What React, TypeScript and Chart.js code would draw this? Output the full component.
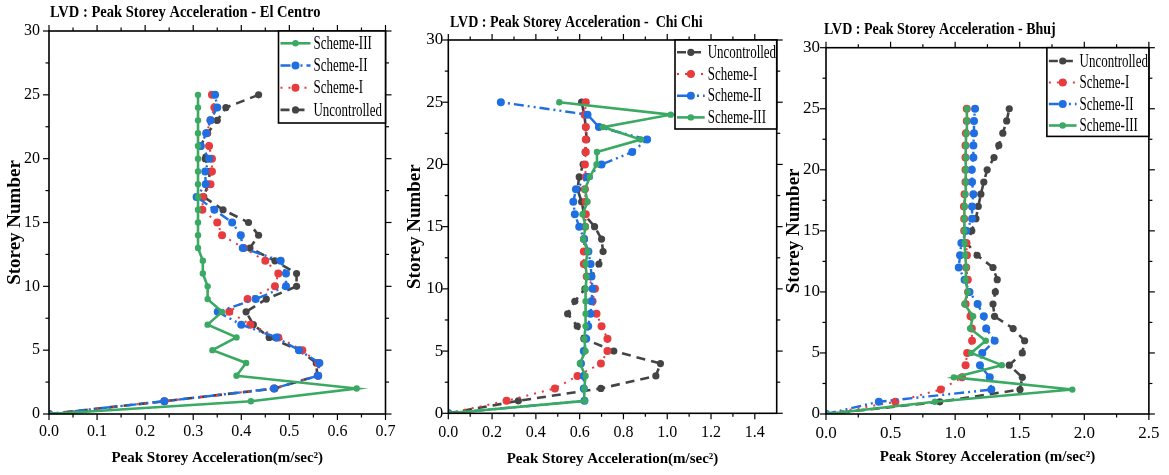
import React, { useEffect, useRef } from "react";
import { Chart, registerables } from "chart.js";

Chart.register(...registerables);
Chart.defaults.font.family = "'Liberation Serif', 'Times New Roman', serif";
Chart.defaults.color = "#000";

// ---------------- DATA ----------------
const storeys = [0, 1, 2, 3, 4, 5, 6, 7, 8, 9, 10, 11, 12, 13, 14, 15, 16, 17, 18, 19, 20, 21, 22, 23, 24, 25];

// El Centro (m/sec^2), storey 0..25
const elCentroUncontrolled = [0, 0.24, 0.47, 0.558, 0.556, 0.52, 0.458, 0.425, 0.41, 0.452, 0.515, 0.515, 0.47, 0.418, 0.436, 0.415, 0.362, 0.322, 0.331, 0.335, 0.325, 0.315, 0.33, 0.35, 0.368, 0.436];
const elCentroSchemeI = [0, 0.24, 0.468, 0.56, 0.56, 0.527, 0.477, 0.419, 0.375, 0.413, 0.47, 0.477, 0.45, 0.405, 0.36, 0.35, 0.319, 0.32, 0.336, 0.339, 0.339, 0.333, 0.328, 0.336, 0.344, 0.339];
const elCentroSchemeII = [0, 0.24, 0.4685, 0.56, 0.5625, 0.52, 0.473, 0.4, 0.351, 0.43, 0.493, 0.493, 0.482, 0.403, 0.399, 0.381, 0.344, 0.307, 0.326, 0.325, 0.333, 0.316, 0.327, 0.336, 0.35, 0.3455];
const elCentroSchemeIII = [0, 0.42, 0.64, 0.39, 0.41, 0.34, 0.39, 0.33, 0.36, 0.33, 0.33, 0.32, 0.32, 0.31, 0.31, 0.31, 0.31, 0.31, 0.31, 0.31, 0.31, 0.31, 0.31, 0.31, 0.31, 0.31];

// Chi Chi
const chiChiUncontrolled = [0, 0.32, 0.697, 0.948, 0.969, 0.756, 0.619, 0.589, 0.545, 0.578, 0.624, 0.654, 0.688, 0.707, 0.7, 0.668, 0.62, 0.609, 0.59, 0.598, 0.616, 0.625, 0.632, 0.628, 0.621, 0.609];
const chiChiSchemeI = [0, 0.266, 0.487, 0.59, 0.697, 0.727, 0.727, 0.7, 0.677, 0.659, 0.67, 0.632, 0.619, 0.619, 0.62, 0.625, 0.628, 0.628, 0.624, 0.628, 0.624, 0.628, 0.628, 0.628, 0.624, 0.628];
const chiChiSchemeII = [0, 0.622, 0.619, 0.619, 0.606, 0.619, 0.63, 0.639, 0.65, 0.654, 0.659, 0.654, 0.65, 0.64, 0.62, 0.598, 0.578, 0.571, 0.583, 0.635, 0.7, 0.84, 0.908, 0.688, 0.636, 0.24];
const chiChiSchemeIII = [0, 0.624, 0.621, 0.627, 0.601, 0.627, 0.621, 0.627, 0.627, 0.627, 0.627, 0.632, 0.627, 0.637, 0.616, 0.628, 0.613, 0.636, 0.624, 0.647, 0.677, 0.679, 0.879, 0.707, 1.016, 0.507];

// Bhuj
const bhujUncontrolled = [0, 0.881, 1.502, 1.52, 1.419, 1.52, 1.538, 1.449, 1.305, 1.293, 1.311, 1.326, 1.293, 1.17, 1.09, 1.129, 1.161, 1.179, 1.199, 1.222, 1.248, 1.301, 1.338, 1.369, 1.399, 1.419];
const bhujSchemeI = [0, 0.537, 0.889, 1.053, 1.081, 1.093, 1.131, 1.129, 1.119, 1.081, 1.1, 1.098, 1.086, 1.091, 1.086, 1.07, 1.07, 1.068, 1.073, 1.08, 1.08, 1.08, 1.08, 1.083, 1.09, 1.09];
const bhujSchemeII = [0, 0.409, 1.28, 1.268, 1.192, 1.21, 1.306, 1.24, 1.222, 1.174, 1.111, 1.073, 1.028, 1.038, 1.048, 1.086, 1.131, 1.131, 1.141, 1.131, 1.129, 1.141, 1.141, 1.146, 1.146, 1.154];
const bhujSchemeIII = [0, 0.843, 1.907, 0.99, 1.361, 1.124, 1.237, 1.116, 1.139, 1.071, 1.098, 1.081, 1.086, 1.078, 1.073, 1.071, 1.071, 1.073, 1.078, 1.081, 1.081, 1.083, 1.083, 1.086, 1.091, 1.091];

// Tick labels
const elCentroXTicks = [0, 0.1, 0.2, 0.3, 0.4, 0.5, 0.6, 0.7];
const chiChiXTicks = [0, 0.2, 0.4, 0.6, 0.8, 1.0, 1.2, 1.4];
const bhujXTicks = [0, 0.5, 1.0, 1.5, 2.0, 2.5];
const storeyTicks = [0, 5, 10, 15, 20, 25, 30];

const seriesNames = ["Uncontrolled", "Scheme-I", "Scheme-II", "Scheme-III"];

// ---------------- STYLES ----------------
const STYLES: Record<string, { color: string; dash: number[]; width: number; radius: number }> = {
  "Scheme-III": { color: "#3aa962", dash: [], width: 2.6, radius: 3.2 },
  "Scheme-II": { color: "#1f6fe3", dash: [10, 4, 2, 4, 2, 4], width: 2.4, radius: 4 },
  "Scheme-I": { color: "#e83b3d", dash: [2, 6], width: 2, radius: 4 },
  Uncontrolled: { color: "#444444", dash: [9, 6], width: 2.6, radius: 3.6 },
};

// ---------------- PLUGINS ----------------
const framePlugin = {
  id: "panelFrame",
  afterDraw(chart: any) {
    const { ctx, chartArea: a, scales } = chart;
    const x = scales.x;
    const y = scales.y;
    ctx.save();
    ctx.strokeStyle = "#000";
    ctx.lineWidth = 1.6;
    ctx.setLineDash([]);
    ctx.strokeRect(a.left, a.top, a.right - a.left, a.bottom - a.top);
    ctx.lineWidth = 1.2;
    const major = 6;
    const minor = 3.5;
    const seg = (x1: number, y1: number, x2: number, y2: number) => {
      ctx.beginPath();
      ctx.moveTo(x1, y1);
      ctx.lineTo(x2, y2);
      ctx.stroke();
    };
    const xv = x.ticks.map((t: any) => t.value);
    const yv = y.ticks.map((t: any) => t.value);
    const drawX = (v: number, len: number) => {
      const p = x.getPixelForValue(v);
      seg(p, a.bottom, p, a.bottom + len);
      seg(p, a.top, p, a.top - len);
    };
    const drawY = (v: number, len: number) => {
      const p = y.getPixelForValue(v);
      seg(a.left, p, a.left - len, p);
      seg(a.right, p, a.right + len, p);
    };
    xv.forEach((v: number, i: number) => {
      drawX(v, major);
      if (i < xv.length - 1) drawX((v + xv[i + 1]) / 2, minor);
    });
    yv.forEach((v: number, i: number) => {
      drawY(v, major);
      if (i < yv.length - 1) drawY((v + yv[i + 1]) / 2, minor);
    });
    ctx.restore();
  },
};

const titlePlugin = {
  id: "panelTitle",
  afterDraw(chart: any, _args: any, opts: any) {
    const { ctx } = chart;
    ctx.save();
    ctx.fillStyle = "#000";
    ctx.font = "bold 17.5px 'Liberation Serif', serif";
    ctx.textBaseline = "middle";
    ctx.textAlign = "left";
    ctx.translate(opts.x, opts.y);
    ctx.scale(opts.scale, 1);
    ctx.fillText(opts.text, 0, 0);
    ctx.restore();
  },
};

const legendPlugin = {
  id: "panelLegend",
  afterDraw(chart: any, _args: any, opts: any) {
    const { ctx, chartArea: a } = chart;
    const left = a.right - opts.boxW;
    const top = a.top;
    ctx.save();
    ctx.fillStyle = "#fff";
    ctx.fillRect(left, top, opts.boxW, opts.boxH);
    ctx.strokeStyle = "#000";
    ctx.lineWidth = 1.6;
    ctx.setLineDash([]);
    ctx.strokeRect(left, top, opts.boxW, opts.boxH);
    opts.order.forEach((name: string, i: number) => {
      const s = STYLES[name];
      const cy = top + opts.rowTop + i * opts.rowH;
      const x0 = left + 2;
      const x1 = left + opts.textOff - 3;
      ctx.strokeStyle = s.color;
      ctx.lineWidth = s.width;
      ctx.setLineDash(s.dash);
      ctx.beginPath();
      ctx.moveTo(x0, cy);
      ctx.lineTo(x1, cy);
      ctx.stroke();
      ctx.setLineDash([]);
      ctx.fillStyle = s.color;
      ctx.beginPath();
      ctx.arc((x0 + x1) / 2, cy, s.radius, 0, Math.PI * 2);
      ctx.fill();
      ctx.save();
      ctx.fillStyle = "#000";
      ctx.font = "18px 'Liberation Serif', serif";
      ctx.textBaseline = "middle";
      ctx.textAlign = "left";
      ctx.translate(left + opts.textOff, cy + 1);
      ctx.scale(0.72, 1);
      ctx.fillText(name, 0, 0);
      ctx.restore();
    });
    ctx.restore();
  },
};

// ---------------- PANELS ----------------
type PanelCfg = {
  left: number;
  w: number;
  top: number;
  padRight: number;
  yAxisW: number;
  xAxisH: number;
  xMax: number;
  xTicks: number[];
  yTickFont: number;
  yTickPad: number;
  xTickFont: number;
  xTickPad: number;
  xTitle: string;
  xTitlePad: number;
  yTitlePad: number;
  title: string;
  titleX: number;
  titleY: number;
  titleScale: number;
  legendOrder: string[];
  boxW: number;
  boxH: number;
  textOff: number;
  rowTop: number;
  rowH: number;
  series: Record<string, number[]>;
};

const panels: PanelCfg[] = [
  {
    left: 0, w: 404, top: 31, padRight: 8, yAxisW: 49, xAxisH: 61, xMax: 0.7, xTicks: elCentroXTicks,
    yTickFont: 16, yTickPad: 9, xTickFont: 16, xTickPad: 8.5,
    xTitle: "Peak Storey Acceleration(m/sec²)", xTitlePad: 9.5, yTitlePad: 5.5,
    title: "LVD : Peak Storey Acceleration - El Centro", titleX: 50, titleY: 12.5, titleScale: 0.83,
    legendOrder: ["Scheme-III", "Scheme-II", "Scheme-I", "Uncontrolled"],
    boxW: 107, boxH: 92, textOff: 35, rowTop: 12.3, rowH: 22.2,
    series: { Uncontrolled: elCentroUncontrolled, "Scheme-I": elCentroSchemeI, "Scheme-II": elCentroSchemeII, "Scheme-III": elCentroSchemeIII },
  },
  {
    left: 403, w: 381, top: 40, padRight: 7.3, yAxisW: 45.3, xAxisH: 61.7, xMax: 1.5, xTicks: chiChiXTicks,
    yTickFont: 17, yTickPad: 5, xTickFont: 16, xTickPad: 10,
    xTitle: "Peak Storey Acceleration(m/sec²)", xTitlePad: 8, yTitlePad: 3,
    title: "LVD : Peak Storey Acceleration -  Chi Chi", titleX: 47, titleY: 22.5, titleScale: 0.8,
    legendOrder: seriesNames,
    boxW: 101.7, boxH: 89, textOff: 32.7, rowTop: 12.3, rowH: 21.7,
    series: { Uncontrolled: chiChiUncontrolled, "Scheme-I": chiChiSchemeI, "Scheme-II": chiChiSchemeII, "Scheme-III": chiChiSchemeIII },
  },
  {
    left: 784, w: 385, top: 47.7, padRight: 13, yAxisW: 42, xAxisH: 61, xMax: 2.5, xTicks: bhujXTicks,
    yTickFont: 17, yTickPad: 6, xTickFont: 17, xTickPad: 9.5,
    xTitle: "Peak Storey Acceleration (m/sec²)", xTitlePad: 10.5, yTitlePad: 0.3,
    title: "LVD : Peak Storey Acceleration - Bhuj", titleX: 40, titleY: 29, titleScale: 0.8,
    legendOrder: seriesNames,
    boxW: 102, boxH: 88.7, textOff: 32.7, rowTop: 13.3, rowH: 21.5,
    series: { Uncontrolled: bhujUncontrolled, "Scheme-I": bhujSchemeI, "Scheme-II": bhujSchemeII, "Scheme-III": bhujSchemeIII },
  },
];

// draw order: first dataset ends up on top
const drawOrder = ["Scheme-III", "Scheme-II", "Scheme-I", "Uncontrolled"];

function Panel({ cfg }: { cfg: PanelCfg }) {
  const ref = useRef<HTMLCanvasElement | null>(null);
  useEffect(() => {
    if (!ref.current) return;
    const datasets = drawOrder.map((name) => {
      const s = STYLES[name];
      return {
        label: name,
        data: storeys.map((st, i) => ({ x: cfg.series[name][i], y: st })),
        borderColor: s.color,
        backgroundColor: s.color,
        borderWidth: s.width,
        borderDash: s.dash,
        pointRadius: s.radius,
        pointBorderWidth: 0,
        pointBackgroundColor: s.color,
        pointHoverRadius: s.radius,
        tension: 0,
        fill: false,
      };
    });
    const chart = new Chart(ref.current, {
      type: "line",
      data: { datasets },
      options: {
        animation: false,
        responsive: false,
        devicePixelRatio: 1,
        events: [],
        layout: { padding: { top: cfg.top, right: cfg.padRight, left: 0, bottom: 0 } },
        plugins: {
          legend: { display: false },
          tooltip: { enabled: false },
          title: { display: false },
          panelTitle: { text: cfg.title, x: cfg.titleX, y: cfg.titleY, scale: cfg.titleScale },
          panelLegend: {
            order: cfg.legendOrder, boxW: cfg.boxW, boxH: cfg.boxH, textOff: cfg.textOff,
            rowTop: cfg.rowTop, rowH: cfg.rowH,
          },
        } as any,
        scales: {
          x: {
            type: "linear",
            position: "bottom",
            min: 0,
            max: cfg.xMax,
            afterBuildTicks: (s: any) => {
              s.ticks = cfg.xTicks.map((v) => ({ value: v }));
            },
            afterFit: (s: any) => {
              s.height = cfg.xAxisH;
            },
            grid: { display: false, drawTicks: false },
            border: { display: false },
            ticks: {
              color: "#000",
              autoSkip: false,
              maxRotation: 0,
              padding: cfg.xTickPad,
              font: { size: cfg.xTickFont, lineHeight: 1.2 },
              callback: (v: any) => Number(v).toFixed(1),
            },
            title: {
              display: true,
              text: cfg.xTitle,
              color: "#000",
              font: { size: 15, weight: "bold", lineHeight: 1 },
              padding: { top: 0, bottom: cfg.xTitlePad },
            },
          },
          y: {
            type: "linear",
            min: 0,
            max: 30,
            afterBuildTicks: (s: any) => {
              s.ticks = storeyTicks.map((v) => ({ value: v }));
            },
            afterFit: (s: any) => {
              s.width = cfg.yAxisW;
            },
            grid: { display: false, drawTicks: false },
            border: { display: false },
            ticks: {
              color: "#000",
              autoSkip: false,
              padding: cfg.yTickPad,
              font: { size: cfg.yTickFont, lineHeight: 1.2 },
              callback: (v: any) => String(v),
            },
            title: {
              display: true,
              text: "Storey Number",
              color: "#000",
              font: { size: 19, weight: "bold", lineHeight: 1 },
              padding: { top: cfg.yTitlePad, bottom: 0 },
            },
          },
        },
      } as any,
      plugins: [framePlugin, titlePlugin, legendPlugin],
    });
    return () => chart.destroy();
  }, [cfg]);
  return (
    <canvas
      ref={ref}
      width={cfg.w}
      height={475}
      style={{ position: "absolute", left: cfg.left, top: 0, width: cfg.w, height: 475 }}
    />
  );
}

export default function App() {
  return (
    <div style={{ position: "fixed", left: 0, top: 0, width: 1169, height: 475, background: "#fff", overflow: "hidden" }}>
      {panels.map((p, i) => (
        <Panel key={i} cfg={p} />
      ))}
    </div>
  );
}
